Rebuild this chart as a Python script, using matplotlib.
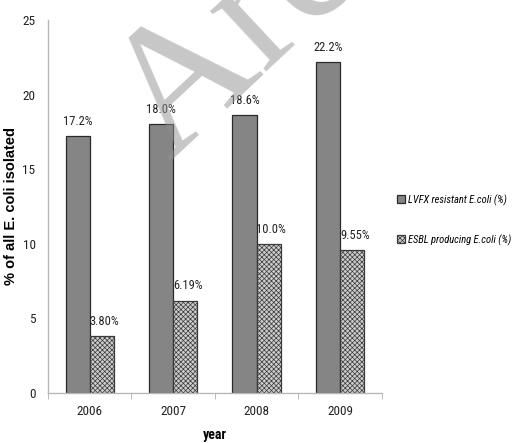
import matplotlib
matplotlib.use("Agg")
import matplotlib.pyplot as plt
import numpy as np
from matplotlib import font_manager

years = ["2006", "2007", "2008", "2009"]
lvfx_resistant = [17.2, 18.0, 18.6, 22.2]
esbl_producing = [3.80, 6.19, 10.0, 9.55]
lvfx_labels = ["17.2%", "18.0%", "18.6%", "22.2%"]
esbl_labels = ["3.80%", "6.19%", "10.0%", "9.55%"]
series_names = ["LVFX resistant E.coli (%)", "ESBL producing E.coli (%)"]

installed = {f.name for f in font_manager.fontManager.ttflist}
narrow = [f for f in ["Liberation Sans Narrow", "Roboto Condensed", "Lato", "DejaVu Sans"]
          if f in installed]
plt.rcParams["hatch.color"] = "#a2a2a2"
plt.rcParams["hatch.linewidth"] = 0.5

fig = plt.figure(figsize=(5.12, 4.43), dpi=100)
ax = fig.add_axes([0.09375, 0.1129, 0.652, 0.842])

x = np.arange(len(years))
w = 0.29
b1 = ax.bar(x - w / 2, lvfx_resistant, w, color="#858585", edgecolor="#2a2a2a",
            linewidth=0.9, label=series_names[0], zorder=2)
b2 = ax.bar(x + w / 2, esbl_producing, w, color="#cdcdcd", edgecolor="#3a3a3a",
            linewidth=0.9, hatch="xxxxxxx", label=series_names[1], zorder=2)

for xi, v, t in zip(x - w / 2, lvfx_resistant, lvfx_labels):
    ax.text(xi, v + 0.55, t, ha="center", va="bottom", fontsize=9,
            family=narrow, color="#222222")
for xi, v, t in zip(x + w / 2, esbl_producing, esbl_labels):
    ax.text(xi + 0.03, v + 0.55, t, ha="center", va="bottom", fontsize=9,
            family=narrow, color="#222222")

ax.set_xlim(-0.5, 3.5)
ax.set_ylim(0, 25)
ax.set_yticks([0, 5, 10, 15, 20, 25])
ax.set_xticks(x)
ax.set_xticklabels(years)
ax.set_xticks(np.arange(-0.5, 4.0, 1.0), minor=True)
ax.tick_params(axis="x", which="major", length=0, pad=9)
ax.tick_params(axis="x", which="minor", length=4, color="#b0b0b0", direction="out")
ax.tick_params(axis="y", length=0, pad=9)
for lab in ax.get_xticklabels() + ax.get_yticklabels():
    lab.set_family(narrow)
    lab.set_fontsize(9.5)
    lab.set_color("#222222")

for s in ["top", "right"]:
    ax.spines[s].set_visible(False)
for s in ["left", "bottom"]:
    ax.spines[s].set_color("#b8b8b8")
    ax.spines[s].set_linewidth(1.0)

ax.set_xlabel("year", fontsize=10, fontweight="bold", family=narrow)
ax.xaxis.set_label_coords(0.5, -0.093)
ax.set_ylabel("% of all E. coli isolated", fontsize=10.5, fontweight="bold",
              family="Liberation Sans")
ax.yaxis.set_label_coords(-0.09, 0.5)

leg = fig.legend(handles=[b1, b2], loc="upper left", bbox_to_anchor=(0.775, 0.562),
                 frameon=False, handlelength=0.8, handleheight=0.8,
                 handletextpad=0.3, labelspacing=2.7, borderaxespad=0, borderpad=0,
                 prop={"family": narrow, "style": "italic", "size": 7.6})

fig.text(0.330, 0.636, "Arc", family="Liberation Serif", fontsize=130,
         color="#909090", alpha=0.5, rotation=43, rotation_mode="anchor",
         ha="left", va="baseline", zorder=10)

fig.savefig("out.png", dpi=100)
